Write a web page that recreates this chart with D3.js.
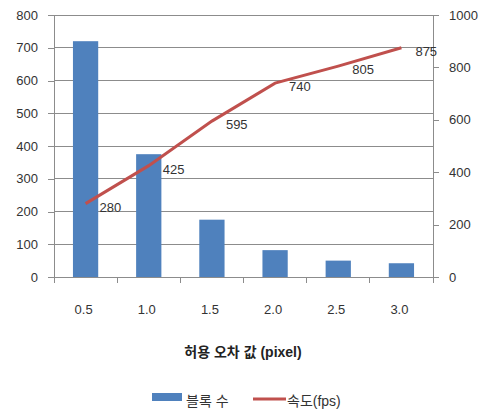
<!DOCTYPE html>
<html><head><meta charset="utf-8">
<script src="https://cdn.jsdelivr.net/npm/d3@7"></script>
<style>body{margin:0;background:#fff;} svg{display:block;} text{font-family:"Liberation Sans","DejaVu Sans","Noto Sans CJK KR",sans-serif;}</style>
</head><body>
<svg id="c" width="490" height="411"></svg>
<script>
const categories = ["0.5","1.0","1.5","2.0","2.5","3.0"];
const blockCounts = [720, 375, 175, 82, 50, 42];
const speedFps = [280, 425, 595, 740, 805, 875];
const leftTicks = [0,100,200,300,400,500,600,700,800];
const rightTicks = [0,200,400,600,800,1000];
const xTitle = "허용 오차 값 (pixel)";
const legendBar = "블록 수";
const legendLine = "속도(fps)";

const svg = d3.select("#c");
const L = 54, R = 433, T = 15, B = 277;
const x = d3.scaleBand().domain(categories).range([L, R]).paddingInner(0.6).paddingOuter(0.3);
const xb = d3.scaleBand().domain(categories).range([L, R]);
const yL = d3.scaleLinear().domain([0, 800]).range([B, T]);
const yR = d3.scaleLinear().domain([0, 1000]).range([B, T]);
const grid = "#8c8c8c";
const fontC = "#333";

// gridlines
svg.append("g").selectAll("line").data(leftTicks.slice(1)).join("line")
  .attr("x1", L).attr("x2", R).attr("y1", d => yL(d)).attr("y2", d => yL(d))
  .attr("stroke", grid).attr("stroke-width", 1).attr("shape-rendering","crispEdges");

// left axis
const gl = svg.append("g").attr("transform", `translate(${L},0)`)
  .call(d3.axisLeft(yL).tickValues(leftTicks).tickSize(6).tickPadding(10).tickFormat(d3.format("d")));
// right axis
const gr = svg.append("g").attr("transform", `translate(${R},0)`)
  .call(d3.axisRight(yR).tickValues(rightTicks).tickSize(6).tickPadding(10).tickFormat(d3.format("d")));
// bottom axis (ticks at band boundaries)
const gb = svg.append("g").attr("transform", `translate(0,${B})`)
  .call(d3.axisBottom(xb).tickSize(0).tickPadding(28));
gb.selectAll(".tick text").attr("dx", -2);
const bounds = categories.map(c => xb(c)).concat([R]);
gb.selectAll("line.b").data(bounds).join("line").attr("class","b")
  .attr("x1", d => d).attr("x2", d => d).attr("y1", 0).attr("y2", 6)
  .attr("stroke", grid).attr("shape-rendering","crispEdges");
[gl, gr, gb].forEach(g => {
  g.select(".domain").attr("stroke", grid).attr("shape-rendering","crispEdges");
  g.selectAll(".tick line").attr("stroke", grid).attr("shape-rendering","crispEdges");
  g.selectAll("text").attr("font-size", 13).attr("fill", fontC).attr("font-family", '"Liberation Sans","DejaVu Sans",sans-serif');
});
gb.select(".domain").attr("d", `M${L},0H${R}`);

// bars
svg.append("g").selectAll("rect").data(blockCounts).join("rect")
  .attr("x", (d,i) => x(categories[i])).attr("width", x.bandwidth())
  .attr("y", d => yL(d)).attr("height", d => B - yL(d))
  .attr("fill", "#4F81BD");

// line
const cx = i => xb(categories[i]) + xb.bandwidth()/2;
svg.append("path").datum(speedFps)
  .attr("d", d3.line().x((d,i) => cx(i)).y(d => yR(d)))
  .attr("fill","none").attr("stroke","#C0504D").attr("stroke-width",3);

// labels
svg.append("g").selectAll("text").data(speedFps).join("text")
  .attr("x", (d,i) => cx(i) + 14).attr("y", d => yR(d) + 8)
  .attr("font-size", 13).attr("fill", fontC).text(d => d);

// x title
svg.append("text").attr("x", 243).attr("y", 357).attr("text-anchor","middle")
  .attr("font-size", 14).attr("font-weight","bold").attr("fill","#222")
  .attr("font-family",'"Noto Sans CJK KR",sans-serif').text(xTitle);

// legend
const lg = svg.append("g");
lg.append("rect").attr("x",152).attr("y",393).attr("width",30).attr("height",8).attr("fill","#4F81BD");
lg.append("text").attr("x",186).attr("y",406).attr("font-size",14).attr("fill",fontC)
  .attr("font-family",'"Noto Sans CJK KR",sans-serif').text(legendBar);
lg.append("line").attr("x1",253).attr("x2",286).attr("y1",399).attr("y2",399).attr("stroke","#C0504D").attr("stroke-width",3);
lg.append("text").attr("x",287).attr("y",406).attr("font-size",14).attr("fill",fontC)
  .attr("font-family",'"Noto Sans CJK KR",sans-serif').text(legendLine);
</script>
</body></html>
